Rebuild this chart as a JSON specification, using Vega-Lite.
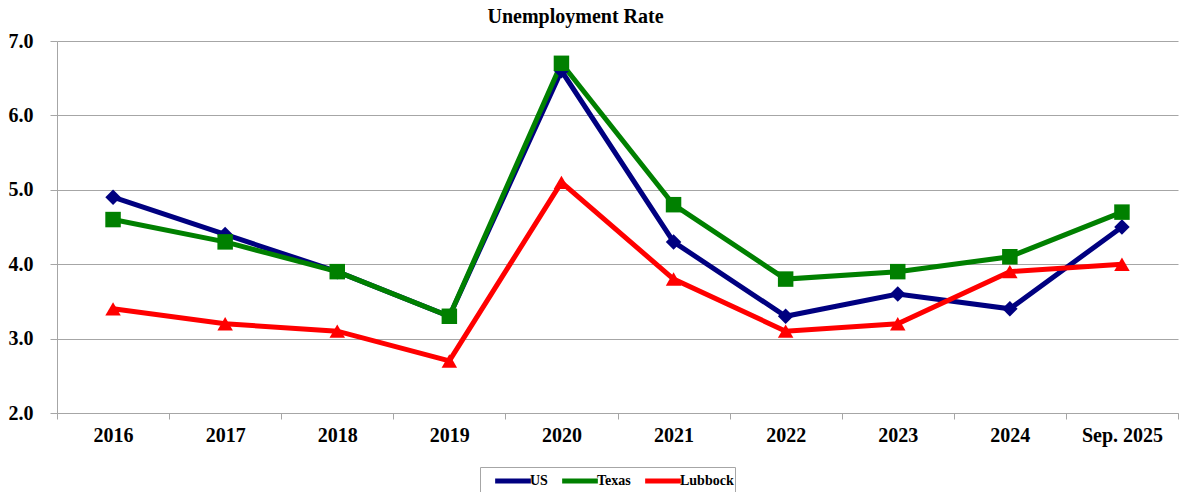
{
  "$schema": "https://vega.github.io/schema/vega-lite/v6.json",
  "autosize": {"type": "none"},
  "width": 1121,
  "height": 372,
  "padding": {"left": 57, "top": 41, "right": 10, "bottom": 79},
  "background": "white",
  "title": {"text": "Unemployment Rate", "font": "Liberation Serif", "fontSize": 20, "fontWeight": "bold", "color": "black", "anchor": "middle", "offset": 4, "dx": -42},
  "config": {
    "view": {"stroke": null},
    "font": "Liberation Serif"
  },
  "data": {
    "values": [
      {"year": "2016", "series": "US", "rate": 4.9},
      {"year": "2017", "series": "US", "rate": 4.4},
      {"year": "2018", "series": "US", "rate": 3.9},
      {"year": "2019", "series": "US", "rate": 3.3},
      {"year": "2020", "series": "US", "rate": 6.6},
      {"year": "2021", "series": "US", "rate": 4.3},
      {"year": "2022", "series": "US", "rate": 3.3},
      {"year": "2023", "series": "US", "rate": 3.6},
      {"year": "2024", "series": "US", "rate": 3.4},
      {"year": "Sep. 2025", "series": "US", "rate": 4.5},
      {"year": "2016", "series": "Texas", "rate": 4.6},
      {"year": "2017", "series": "Texas", "rate": 4.3},
      {"year": "2018", "series": "Texas", "rate": 3.9},
      {"year": "2019", "series": "Texas", "rate": 3.3},
      {"year": "2020", "series": "Texas", "rate": 6.7},
      {"year": "2021", "series": "Texas", "rate": 4.8},
      {"year": "2022", "series": "Texas", "rate": 3.8},
      {"year": "2023", "series": "Texas", "rate": 3.9},
      {"year": "2024", "series": "Texas", "rate": 4.1},
      {"year": "Sep. 2025", "series": "Texas", "rate": 4.7},
      {"year": "2016", "series": "Lubbock", "rate": 3.4},
      {"year": "2017", "series": "Lubbock", "rate": 3.2},
      {"year": "2018", "series": "Lubbock", "rate": 3.1},
      {"year": "2019", "series": "Lubbock", "rate": 2.7},
      {"year": "2020", "series": "Lubbock", "rate": 5.1},
      {"year": "2021", "series": "Lubbock", "rate": 3.8},
      {"year": "2022", "series": "Lubbock", "rate": 3.1},
      {"year": "2023", "series": "Lubbock", "rate": 3.2},
      {"year": "2024", "series": "Lubbock", "rate": 3.9},
      {"year": "Sep. 2025", "series": "Lubbock", "rate": 4.0}
    ]
  },
  "encoding": {
    "x": {
      "field": "year", "type": "ordinal", "sort": null,
      "scale": {"type": "band", "paddingInner": 0, "paddingOuter": 0},
      "axis": {
        "title": null, "labelAngle": 0, "tickBand": "extent",
        "labelFont": "Liberation Serif", "labelFontSize": 20, "labelFontWeight": "bold", "labelColor": "black",
        "labelPadding": 6, "domainColor": "#a6a6a6", "tickColor": "#a6a6a6", "tickSize": 6, "grid": false
      }
    },
    "y": {
      "field": "rate", "type": "quantitative",
      "scale": {"domain": [2, 7], "nice": false, "zero": false},
      "axis": {
        "title": null, "values": [2, 3, 4, 5, 6, 7], "format": ".1f",
        "labelFont": "Liberation Serif", "labelFontSize": 20, "labelFontWeight": "bold", "labelColor": "black",
        "labelPadding": 17, "domainColor": "#a6a6a6", "tickColor": "#a6a6a6", "tickSize": 7,
        "grid": true, "gridColor": "#a6a6a6", "gridWidth": 1
      }
    }
  },
  "resolve": {"legend": {"color": "independent"}},
  "layer": [
    {
      "mark": {"type": "line", "strokeWidth": 5},
      "encoding": {
        "color": {
          "field": "series", "type": "nominal",
          "scale": {"domain": ["US", "Texas", "Lubbock"], "range": ["#000080", "#008000", "#ff0000"]},
          "legend": {
            "title": null, "orient": "none", "legendX": 423, "legendY": 426, "direction": "horizontal",
            "symbolType": "M-1.7,0H1.7", "symbolStrokeWidth": 5, "symbolSize": 441,
            "labelFont": "Liberation Serif", "labelFontSize": 14, "labelFontWeight": "bold", "labelColor": "black",
            "strokeColor": "#a6a6a6", "padding": 1, "columnPadding": -1, "symbolOffset": 19, "labelOffset": 4
          }
        }
      }
    },
    {
      "mark": {"type": "point", "filled": true, "opacity": 1, "size": 240},
      "encoding": {
        "color": {
          "field": "series", "type": "nominal",
          "scale": {"domain": ["US", "Texas", "Lubbock"], "range": ["#000080", "#008000", "#ff0000"]},
          "legend": null
        },
        "shape": {
          "field": "series", "type": "nominal",
          "scale": {"domain": ["US", "Texas", "Lubbock"], "range": ["diamond", "square", "triangle-up"]},
          "legend": null
        }
      }
    }
  ]
}
